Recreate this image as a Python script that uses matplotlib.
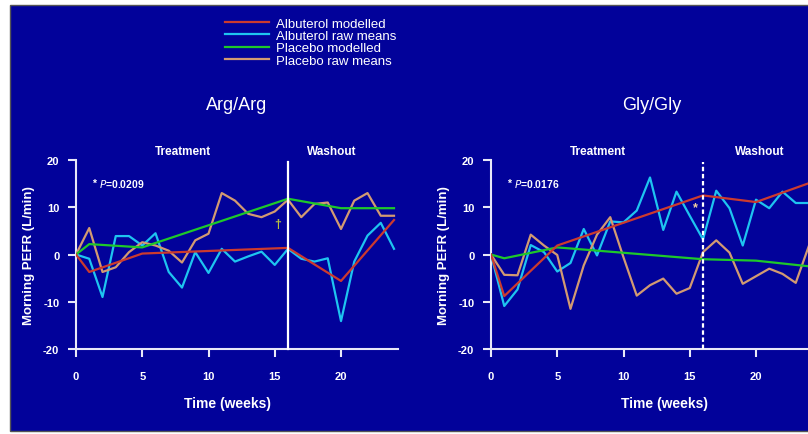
import numpy as np
import matplotlib
matplotlib.use("Agg")
import matplotlib.pyplot as plt
from matplotlib.patches import Rectangle
from matplotlib.lines import Line2D

plt.rcParams['font.family'] = ['Liberation Sans', 'DejaVu Sans']
plt.rcParams['axes.unicode_minus'] = False

weeks = np.arange(25)

# Arg/Arg panel
arg_alb_raw = [0, -0.9, -9, 3.9, 3.9, 1.9, 4.5, -3.7, -7, 0.5, -3.9, 1.2, -1.5,
               -0.4, 0.6, -2.2, 1.2, -0.9, -1.5, -0.8, -14.1, -1.5, 4, 6.7, 1.2]
arg_pla_raw = [0, 5.6, -3.7, -2.7, 0.5, 2.6, 1.9, 0.8, -1.7, 3, 4.4, 13, 11.4,
               8.6, 7.9, 9.1, 11.6, 7.9, 10.7, 11, 5.4, 11.4, 13, 8.2, 8.2]
arg_alb_mod_wk = [0, 1, 5, 16, 20, 24]
arg_alb_mod = [0, -3.7, 0.2, 1.4, -5.6, 7.3]
arg_pla_mod_wk = [0, 1, 5, 16, 18, 20, 24]
arg_pla_mod = [0, 2.2, 1.5, 11.8, 10.8, 9.8, 9.8]

# Gly/Gly panel
gly_alb_raw = [0, -10.9, -7.4, 2, 0.5, -3.6, -1.8, 5.4, -0.2, 7, 6.8, 9.3, 16.3,
               5.2, 13.3, 8.2, 3.2, 13.5, 9.8, 1.9, 11.6, 9.8, 13.3, 10.9, 10.9]
gly_pla_raw = [0, -4.3, -4.4, 4.2, 1.9, -0.1, -11.5, -2.3, 4.2, 7.9, -0.6, -8.7,
               -6.5, -5.1, -8.3, -7.1, 0.5, 3, 0.4, -6.2, -4.6, -3, -4.1, -6, 1.9]
gly_alb_mod_wk = [0, 1, 5, 16, 20, 24]
gly_alb_mod = [0, -8.8, 1.9, 12.5, 11.1, 15.1]
gly_pla_mod_wk = [0, 1, 5, 16, 20, 24]
gly_pla_mod = [0, -0.8, 1.5, -1.0, -1.3, -2.5]

labels = ["Albuterol modelled", "Albuterol raw means",
          "Placebo modelled", "Placebo raw means"]
colors = ["#cc3a2e", "#1ec4f0", "#1ec82a", "#d29a72"]

BLUE = "#02029a"

fig = plt.figure(figsize=(8.08, 4.35), dpi=100, facecolor="white")
fig.add_artist(Rectangle((10 / 808, 3 / 435), 1.0, 1 - 9 / 435,
                         transform=fig.transFigure, facecolor=BLUE,
                         edgecolor="#555555", linewidth=1, zorder=-10))


def panel(left_px, data, title, title_x, ptext, wash_x, vstyle, mark, xl):
    ax = fig.add_axes([left_px / 808, 85 / 435, 24.3 * 13.25 / 808, 189 / 435])
    ax.set_facecolor("none")
    alb_raw, pla_raw, alb_wk, alb_mod, pla_wk, pla_mod = data
    ax.plot(weeks, alb_raw, color=colors[1], lw=1.6, zorder=3)
    ax.plot(weeks, pla_raw, color=colors[3], lw=1.6, zorder=3)
    ax.plot(pla_wk, pla_mod, color=colors[2], lw=1.6, zorder=4)
    ax.plot(alb_wk, alb_mod, color=colors[0], lw=1.6, zorder=4)
    ax.plot([16, 16], [-20, 19.6], color="white", lw=1.6, ls=vstyle,
            zorder=5, clip_on=False)
    ax.set_xlim(0, 24.3)
    ax.set_ylim(-20, 20)
    ax.set_xticks([0, 5, 10, 15, 20])
    ax.set_yticks([-20, -10, 0, 10, 20])
    for s in ["top", "right"]:
        ax.spines[s].set_visible(False)
    for s in ["left", "bottom"]:
        ax.spines[s].set_color("#e8e8f8")
        ax.spines[s].set_linewidth(1.5)
    ax.tick_params(colors="#e8e8f8", width=1.5, length=6, labelsize=8)
    ax.tick_params(axis="y", pad=6)
    ax.tick_params(axis="x", pad=10)
    for t in ax.get_xticklabels() + ax.get_yticklabels():
        t.set_fontweight("bold")
        t.set_color("white")
    ax.set_ylabel("Morning PEFR (L/min)", color="white", fontsize=9.5,
                  fontweight="bold", labelpad=6)
    ax.set_xlabel("Time (weeks)", color="white", fontsize=10,
                  fontweight="bold", labelpad=13)
    ax.xaxis.set_label_coords(xl, -0.25)
    ax.text(8.1, 21.9, "Treatment", color="white", fontsize=8.5,
            fontweight="bold", ha="center", va="center", clip_on=False)
    ax.text(wash_x, 21.9, "Washout", color="white", fontsize=8.5,
            fontweight="bold", ha="center", va="center", clip_on=False)
    ax.text(1.2, 15.1, "* ", color="white", fontsize=7.5, fontweight="bold",
            ha="left", va="center")
    ax.text(1.75, 15.1, "$\\it{P}$" + ptext, color="white", fontsize=7.5,
            fontweight="bold", ha="left", va="center")
    ax.text(mark[0], mark[1], mark[2], color=mark[3], fontsize=9,
            fontweight="bold", ha="center", va="center", zorder=6)
    fig.text(title_x / 808, 1 - 106 / 435, title, color="white", fontsize=13,
             ha="center", va="center")
    return ax


ax1 = panel(76, (arg_alb_raw, arg_pla_raw, arg_alb_mod_wk, arg_alb_mod,
                 arg_pla_mod_wk, arg_pla_mod),
            "Arg/Arg", 237, "=0.0209", 19.3, "-",
            (15.2, 6.5, "\u2020", "#b8c040"), 0.47)
ax2 = panel(491, (gly_alb_raw, gly_pla_raw, gly_alb_mod_wk, gly_alb_mod,
                  gly_pla_mod_wk, gly_pla_mod),
            "Gly/Gly", 652, "=0.0176", 20.3, (0, (2, 1.2)),
            (15.4, 10, "*", "#f0d0a0"), 0.54)

handles = [Line2D([], [], color=c, lw=1.6) for c in colors]
fig.legend(handles, labels, loc="upper left",
           bbox_to_anchor=(218 / 808, 1 - 12 / 435), frameon=False,
           fontsize=9.5, labelcolor="white", handlelength=3.4,
           handletextpad=0.5, labelspacing=0.0, borderpad=0)

fig.savefig("out.png", dpi=100, facecolor="white")
